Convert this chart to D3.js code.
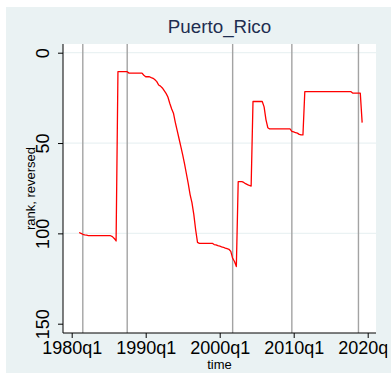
<!DOCTYPE html>
<html>
<head>
<meta charset="utf-8">
<script src="https://cdn.jsdelivr.net/npm/d3@7/dist/d3.min.js"></script>
<style>
  html, body { margin: 0; padding: 0; background: #ffffff; }
  svg { display: block; }
  text { font-family: "Liberation Sans", Arial, sans-serif; }
</style>
</head>
<body>
<svg id="chart" width="391" height="375"></svg>
<script>
// Quarterly rank of Puerto_Rico (rank axis is reversed: 1 = top)
const quarters = [
  "1981q1","1981q2","1981q3","1981q4","1982q1","1982q2","1982q3",
  "1985q2","1985q3","1985q4","1986q1","1986q2",
  "1987q3","1987q4","1989q3","1989q4","1990q1","1990q3","1990q4",
  "1991q1","1991q2","1991q3","1991q4","1992q1","1992q2","1992q3","1992q4",
  "1993q1","1993q2","1993q3","1993q4","1994q1","1994q2","1994q3","1994q4",
  "1995q1","1995q2","1995q3","1995q4","1996q1","1996q2","1996q3","1996q4",
  "1997q1","1997q2","1999q1","1999q2","1999q3","1999q4",
  "2000q1","2000q2","2000q3","2000q4","2001q1","2001q2","2001q3","2001q4",
  "2002q1","2002q2","2002q3","2003q1","2003q2","2003q3","2003q4",
  "2004q1","2004q2","2004q3","2005q4","2006q1","2006q2","2006q3","2006q4",
  "2009q3","2009q4","2010q1","2010q2","2010q3","2010q4","2011q1","2011q2",
  "2011q3","2017q4","2018q1","2019q1","2019q2"
];
const ranks = [
  99.5,100,100.5,100.8,101,101.2,101.3,
  101.3,101.8,102.8,104.2,10.5,
  10.5,11.3,11.3,12.5,13.3,13.3,13.8,
  14.2,15,16,17.9,18.5,19.5,21,22.5,
  24.5,28,31,33.5,38.5,43,47.5,52,
  56.5,61.5,67,72.5,78.5,83,89.5,98,
  105,105.5,105.5,106.2,106.4,106.8,
  107,107.5,107.7,108.2,108.5,108.8,110,113.8,
  115.6,118.4,71.4,71.4,71.8,72.5,73,
  73.5,73.8,27,27,30,37,41.5,42.2,
  42.2,43.5,43.8,44.3,44.5,45.2,45.5,45.5,
  21.6,21.6,22.4,22.4,38.7
];
// Reference dates marked with vertical lines
const markerQuarters = ["1981q3","1987q3","2001q4","2009q4","2018q4"];
// Axis ticks
const xTickYears = [1980, 1990, 2000, 2010, 2020];
const xTickLabels = ["1980q1","1990q1","2000q1","2010q1","2020q1"];
const yTicks = [0, 50, 100, 150];
const yGrid = [0, 50, 100];

const titleText = "Puerto_Rico";
const xLabel = "time";
const yLabel = "rank, reversed";

function parseQuarter(q) {
  const [y, qq] = q.split("q").map(Number);
  return y + (qq - 1) / 4;
}

const svg = d3.select("#chart");
const W = 391, H = 375;

// Labels are clipped at the graph's right edge
svg.append("defs").append("clipPath").attr("id", "graph-clip")
  .append("rect").attr("x", 0).attr("y", 0).attr("width", 387.5).attr("height", H);

// Outer graph region
svg.append("rect")
  .attr("x", 6).attr("y", 7).attr("width", W - 6).attr("height", 366)
  .attr("fill", "#eaf2f3");

const plot = { left: 63, right: 376, top: 44, bottom: 333 };

// Plot region
svg.append("rect")
  .attr("x", plot.left).attr("y", plot.top)
  .attr("width", plot.right - plot.left).attr("height", plot.bottom - plot.top)
  .attr("fill", "#ffffff");

const x = d3.scaleLinear().domain([1980, 2020]).range([71.7, 367.7]);
const y = d3.scaleLinear().domain([0, 150]).range([52.7, 323.7]);

// Horizontal grid
svg.append("g").selectAll("line").data(yGrid).join("line")
  .attr("x1", plot.left).attr("x2", plot.right)
  .attr("y1", d => y(d)).attr("y2", d => y(d))
  .attr("stroke", "#eaf2f3").attr("stroke-width", 1.2);

// Vertical marker lines
svg.append("g").selectAll("line").data(markerQuarters).join("line")
  .attr("x1", d => x(parseQuarter(d))).attr("x2", d => x(parseQuarter(d)))
  .attr("y1", plot.top).attr("y2", plot.bottom)
  .attr("stroke", "#a3a3a3").attr("stroke-width", 1.4);

// Series line
const series = quarters.map((q, i) => ({ t: parseQuarter(q), r: ranks[i] }));
svg.append("path")
  .datum(series)
  .attr("fill", "none")
  .attr("stroke", "#ff0000")
  .attr("stroke-width", 1.3)
  .attr("stroke-linejoin", "round")
  .attr("d", d3.line().x(d => x(d.t)).y(d => y(d.r)));

// Axes
const xAxis = d3.axisBottom(x)
  .tickValues(xTickYears)
  .tickFormat((d, i) => xTickLabels[i])
  .tickSize(5).tickSizeOuter(0);
const gx = svg.append("g")
  .attr("transform", `translate(0,${plot.bottom})`)
  .call(xAxis);
gx.select(".domain").remove();
gx.append("line")
  .attr("x1", plot.left).attr("x2", plot.right)
  .attr("y1", 0).attr("y2", 0)
  .attr("stroke", "#000").attr("stroke-width", 1);
gx.selectAll(".tick line").attr("stroke", "#000");
gx.selectAll(".tick text")
  .attr("dy", null)
  .attr("y", 20.5)
  .attr("fill", "#000")
  .style("font-size", "18px");
// wrap the axis in a clipped group so the last label stops at the edge
const gxWrap = svg.append("g").attr("clip-path", "url(#graph-clip)");
gxWrap.node().appendChild(gx.node());

const yAxis = d3.axisLeft(y).tickValues(yTicks).tickSize(5).tickSizeOuter(0);
const gy = svg.append("g").attr("transform", `translate(${plot.left},0)`).call(yAxis);
gy.select(".domain").remove();
gy.append("line")
  .attr("x1", 0).attr("x2", 0)
  .attr("y1", plot.top).attr("y2", plot.bottom)
  .attr("stroke", "#000").attr("stroke-width", 1);
gy.selectAll(".tick line").attr("stroke", "#000");
gy.selectAll(".tick text")
  .attr("x", null).attr("dy", null)
  .attr("text-anchor", "middle")
  .attr("fill", "#000")
  .style("font-size", "18px")
  .attr("transform", "translate(-13.7,0) rotate(-90)");

// Title and axis titles
svg.append("text")
  .attr("x", 219.5).attr("y", 33.3)
  .attr("text-anchor", "middle")
  .attr("fill", "#1e2d50")
  .style("font-size", "18.8px")
  .text(titleText);

svg.append("text")
  .attr("x", 219.5).attr("y", 369)
  .attr("text-anchor", "middle")
  .attr("fill", "#000")
  .style("font-size", "13px")
  .text(xLabel);

svg.append("text")
  .attr("transform", `translate(35,${(plot.top + plot.bottom) / 2}) rotate(-90)`)
  .attr("text-anchor", "middle")
  .attr("fill", "#000")
  .style("font-size", "13px")
  .text(yLabel);
</script>
</body>
</html>
